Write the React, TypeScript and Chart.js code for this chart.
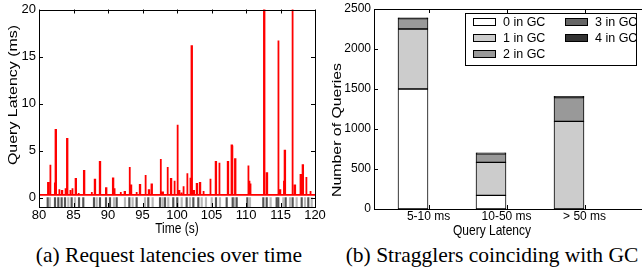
import React, { useEffect, useRef } from 'react';
import { Chart, registerables } from 'chart.js';

Chart.register(...registerables);

// ---------- Data: (a) request latencies over time ----------
const timeTicks = [80, 85, 90, 95, 100, 105, 110, 115, 120];
const latencyTicks = [0, 5, 10, 15, 20];
const baseLatency = 0.28;
const spikeTimes = [
  81.3, 81.6, 82.3, 82.4, 82.9, 83.3, 83.8, 84.05, 84.5, 84.8, 85.3, 85.7, 86.5, 87.6, 88.07, 88.8,
  89.7, 90.7, 90.9, 91.8, 92.4, 93.1, 93.3, 94.1, 94.6, 95.4, 95.9, 96.3, 97.6, 97.9, 98.6, 99.1,
  99.6, 100.04, 100.3, 100.6, 100.9, 101.45, 101.9, 102.1, 102.4, 102.85, 103.3, 103.8, 104.8,
  105.6, 106.1, 107.35, 107.9, 108.0, 108.4, 110.3, 110.45, 110.6, 112.6, 113.0, 114.65, 114.9,
  115.5, 115.6, 116.7, 117.05, 117.9, 118.2, 118.7, 119.3,
];
const spikeValues = [
  1.55, 3.5, 1.5, 7.2, 0.9, 0.7, 1.0, 6.25, 0.8, 1.0, 2.0, 0.5, 2.85, 0.6, 1.9, 3.8,
  1.0, 2.05, 1.0, 0.6, 0.6, 3.25, 1.3, 0.6, 1.35, 2.4, 0.8, 1.4, 4.1, 0.55, 3.25, 2.0,
  1.8, 7.75, 0.8, 0.55, 1.2, 2.6, 2.1, 16.1, 0.7, 1.45, 1.55, 0.7, 2.0,
  3.8, 3.7, 3.8, 5.55, 3.15, 4.1, 3.4, 1.8, 1.5, 25, 2.6, 16.7, 0.8,
  1.7, 5.0, 25, 1.3, 2.4, 3.45, 2.2, 0.7,
];
const gcDarkTimes = [
  81.26, 82.32, 82.8, 83.28, 83.77, 84.73, 85.8, 86.42, 87.97, 88.84, 89.71, 90.29, 91.26, 93.09,
  94.15, 95.84, 97.54, 98.26, 99.46, 100.04, 101.4, 102.37, 103.09, 105.65, 107.2, 108.07, 108.65,
  110.19, 112.51, 113.0, 114.44, 114.68, 115.75, 116.76, 118.07, 119.03,
];
const gcLightTimes = [
  81.59, 84.25, 85.22, 88.36, 90.87, 92.46, 93.57, 95.36, 96.47, 97.92, 98.74, 100.68, 101.88,
  103.58, 104.2, 105.03, 106.23, 108.31, 110.58, 113.57, 115.41, 116.38, 117.34, 118.55, 119.52,
];

// ---------- Data: (b) stragglers coinciding with GC ----------
const latencyCategories = ['5-10 ms', '10-50 ms', '> 50 ms'];
const gcLabels = ['0 in GC', '1 in GC', '2 in GC', '3 in GC', '4 in GC'];
const gc0 = [1500, 170, 0];
const gc1 = [750, 413, 1095];
const gc2 = [130, 107, 298];
const gc3 = [8, 10, 12];
const gc4 = [3, 3, 3];
const gcColors = ['#ffffff', '#cccccc', '#999999', '#666666', '#333333'];
const queryTicks = [0, 500, 1000, 1500, 2000, 2500];

const SANS = '"Liberation Sans", Arial, Helvetica, sans-serif';
const SPIKE_W = 0.08;
const LABEL_SHIFT = 0.2;

const frameTicks = {
  id: 'frameTicks',
  afterDatasetsDraw(chart: any, _a: any, opts: any) {
    const { ctx, chartArea: a, scales } = chart;
    const L = 4;
    ctx.save();
    ctx.strokeStyle = '#000';
    ctx.lineWidth = 1;
    ctx.beginPath();
    (opts.xTicks || []).forEach((v: number) => {
      const px = Math.round(scales.x.getPixelForValue(v)) + 0.5;
      ctx.moveTo(px, a.bottom);
      ctx.lineTo(px, a.bottom - L);
      ctx.moveTo(px, a.top);
      ctx.lineTo(px, a.top + L);
    });
    (opts.yTicks || []).forEach((v: number) => {
      const py = Math.round(scales.y.getPixelForValue(v)) + 0.5;
      ctx.moveTo(a.left, py);
      ctx.lineTo(a.left + L, py);
      ctx.moveTo(a.right, py);
      ctx.lineTo(a.right - L, py);
    });
    ctx.stroke();
    ctx.strokeRect(Math.round(a.left) + 0.5, Math.round(a.top) + 0.5, Math.round(a.right) - Math.round(a.left), Math.round(a.bottom) - Math.round(a.top));
    ctx.restore();
  },
};

const axisTitles = {
  id: 'axisTitles',
  afterDraw(chart: any, _a: any, opts: any) {
    const ctx = chart.ctx;
    (opts.items || []).forEach((it: any) => {
      ctx.save();
      ctx.translate(it.x, it.y);
      if (it.rotate) ctx.rotate(it.rotate);
      ctx.scale(it.sx || 1, it.sy || 1);
      ctx.font = `${it.size}px ${SANS}`;
      ctx.fillStyle = '#000';
      ctx.textAlign = 'center';
      ctx.textBaseline = 'middle';
      ctx.fillText(it.text, 0, 0);
      ctx.restore();
    });
  },
};

function buildRedSeries() {
  const pts: { x: number; y: number }[] = [{ x: 80, y: baseLatency }];
  spikeTimes.forEach((t, i) => {
    pts.push({ x: t, y: baseLatency }, { x: t, y: spikeValues[i] }, { x: t + SPIKE_W, y: spikeValues[i] }, { x: t + SPIKE_W, y: baseLatency });
  });
  pts.push({ x: 120, y: baseLatency });
  return pts;
}

function LatencyChart() {
  const ref = useRef<HTMLCanvasElement>(null);
  useEffect(() => {
    const chart = new Chart(ref.current as HTMLCanvasElement, {
      type: 'line',
      data: {
        datasets: [
          { type: 'line', data: buildRedSeries(), borderColor: '#ff0000', borderWidth: 1.8, pointRadius: 0, fill: false, tension: 0 } as any,
          { type: 'bar', data: gcDarkTimes.map((t) => ({ x: t, y: [-1, 0] })), backgroundColor: '#555555', barThickness: 1.5, grouped: false } as any,
          { type: 'bar', data: gcLightTimes.map((t) => ({ x: t, y: [-1, 0] })), backgroundColor: '#b8b8b8', barThickness: 1.5, grouped: false } as any,
        ],
      },
      options: {
        animation: false,
        responsive: false,
        devicePixelRatio: 1,
        events: [],
        layout: { padding: { left: 0, right: 15, top: 7, bottom: 0 } },
        plugins: {
          legend: { display: false },
          tooltip: { enabled: false },
          frameTicks: { xTicks: timeTicks, yTicks: latencyTicks },
          axisTitles: {
            items: [
              { text: 'Query Latency (ms)', x: 14, y: 95, rotate: -Math.PI / 2, size: 12, sx: 1.33 },
              { text: 'Time (s)', x: 177, y: 229, size: 12, sy: 1.25 },
            ],
          },
        } as any,
        scales: {
          x: {
            type: 'linear', min: 80, max: 120, offset: false,
            afterBuildTicks: (s: any) => { s.ticks = timeTicks.map((v) => ({ value: v })); },
            afterFit: (s: any) => { s.height = 33; },
            grid: { display: false, drawTicks: false },
            border: { display: false },
            ticks: { font: { family: SANS, size: 13, lineHeight: 1 }, color: '#000', padding: 2, maxRotation: 0, autoSkip: false, callback: (v: any) => String(v) },
          },
          y: {
            type: 'linear', min: -1, max: 20,
            afterBuildTicks: (s: any) => { s.ticks = latencyTicks.map((v) => ({ value: v })); },
            afterFit: (s: any) => { s.width = 39; },
            grid: { display: false, drawTicks: false },
            border: { display: false },
            ticks: { font: { family: SANS, size: 13, lineHeight: 1 }, color: '#000', padding: 3, callback: (v: any) => String(v) },
          },
        },
      } as any,
      plugins: [frameTicks, axisTitles],
    });
    return () => chart.destroy();
  }, []);
  return <canvas ref={ref} width={330} height={240} style={{ position: 'absolute', left: 0, top: 0 }} />;
}

function GcChart() {
  const ref = useRef<HTMLCanvasElement>(null);
  useEffect(() => {
    const series = [gc0, gc1, gc2, gc3, gc4];
    const chart = new Chart(ref.current as HTMLCanvasElement, {
      type: 'bar',
      data: {
        datasets: series.map((vals, i) => ({
          label: gcLabels[i],
          data: vals.map((v, j) => ({ x: j + 1, y: v })),
          backgroundColor: gcColors[i],
          borderColor: '#000',
          borderWidth: 1,
          borderSkipped: false,
          barThickness: 30,
          grouped: false,
        })),
      },
      options: {
        animation: false,
        responsive: false,
        devicePixelRatio: 1,
        events: [],
        layout: { padding: { left: 0, right: 13, top: 7, bottom: 0 } },
        plugins: {
          legend: { display: false },
          tooltip: { enabled: false },
          frameTicks: { xTicks: latencyCategories.map((_, i) => i + 1 + LABEL_SHIFT), yTicks: queryTicks },
          axisTitles: {
            items: [
              { text: 'Number of Queries', x: 8, y: 130, rotate: -Math.PI / 2, size: 12, sx: 1.32 },
              { text: 'Query Latency', x: 162, y: 231, size: 12, sy: 1.25 },
            ],
          },
        } as any,
        scales: {
          x: {
            type: 'linear', min: 0.5, max: 4, offset: false, stacked: true,
            afterBuildTicks: (s: any) => { s.ticks = latencyCategories.map((_, i) => ({ value: i + 1 + LABEL_SHIFT })); },
            afterFit: (s: any) => { s.height = 31; },
            grid: { display: false, drawTicks: false },
            border: { display: false },
            ticks: {
              font: { family: SANS, size: 12, lineHeight: 1 }, color: '#000', padding: 2, maxRotation: 0, autoSkip: false,
              callback: (_v: any, i: number) => latencyCategories[i],
            },
          },
          y: {
            type: 'linear', min: 0, max: 2500, stacked: true,
            afterBuildTicks: (s: any) => { s.ticks = queryTicks.map((v) => ({ value: v })); },
            afterFit: (s: any) => { s.width = 44; },
            grid: { display: false, drawTicks: false },
            border: { display: false },
            ticks: { font: { family: SANS, size: 12, lineHeight: 1 }, color: '#000', padding: 3, callback: (v: any) => String(v) },
          },
        },
      } as any,
      plugins: [frameTicks, axisTitles],
    });
    return () => chart.destroy();
  }, []);
  return <canvas ref={ref} width={330} height={240} style={{ position: 'absolute', left: 330, top: 0 }} />;
}

function GcLegend() {
  return (
    <div style={{ position: 'absolute', left: 465, top: 13, width: 172, height: 53, border: '1px solid #000', background: '#fff', boxSizing: 'border-box', fontFamily: SANS, fontSize: 12.5, color: '#000' }}>
      {gcLabels.map((lab, i) => {
        const col = i < 3 ? 0 : 1;
        const row = i < 3 ? i : i - 3;
        return (
          <div key={lab} style={{ position: 'absolute', left: col ? 99 : 7, top: row * 16, height: 16, display: 'flex', alignItems: 'center', whiteSpace: 'nowrap' }}>
            <span style={{ display: 'inline-block', width: 21, height: 6, border: '1px solid #000', background: gcColors[i], marginRight: 7 }} />
            <span>{lab}</span>
          </div>
        );
      })}
    </div>
  );
}

export default function App() {
  const cap: React.CSSProperties = { position: 'absolute', top: 245, width: 400, textAlign: 'center', fontFamily: '"Liberation Serif", "Times New Roman", serif', fontSize: 21.5, lineHeight: '21px', color: '#000', whiteSpace: 'nowrap' };
  return (
    <div style={{ position: 'fixed', left: 0, top: 0, width: 642, height: 275, overflow: 'hidden', background: '#fff' }}>
      <LatencyChart />
      <GcChart />
      <GcLegend />
      <div style={{ ...cap, left: 169 - 200 }}>(a) Request latencies over time</div>
      <div style={{ ...cap, left: 492 - 200 }}>(b) Stragglers coinciding with GC</div>
    </div>
  );
}
